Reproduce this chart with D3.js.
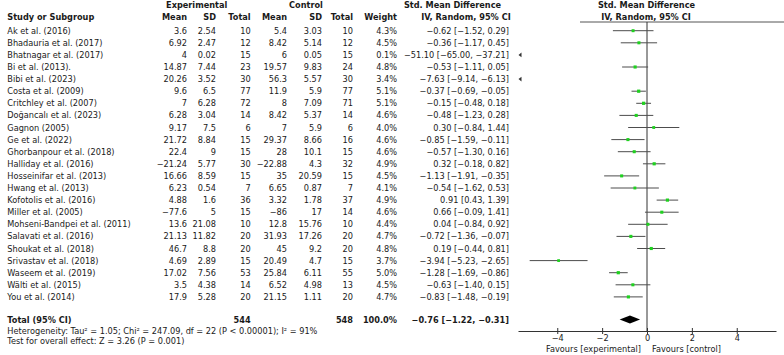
<!DOCTYPE html>
<html>
<head>
<meta charset="utf-8">
<script src="https://cdn.jsdelivr.net/npm/d3@7"></script>
<style>
  body { margin: 0; background: #fff; }
  text { font-family: "DejaVu Sans", sans-serif; font-size: 8.2px; fill: #1a1a1a; }
  .bold { font-weight: bold; }
</style>
</head>
<body>
<div id="main"></div>
<script>
const ctx = { w: 784, h: 355 };

const studies = ["Ak et al. (2016)", "Bhadauria et al. (2017)", "Bhatnagar et al. (2017)", "Bi et al. (2013).",
  "Bibi et al. (2023)", "Costa et al. (2009)", "Critchley et al. (2007)", "Doğancalı et al. (2023)",
  "Gagnon (2005)", "Ge et al. (2022)", "Ghorbanpour et al. (2018)", "Halliday et al. (2016)",
  "Hosseinifar et al. (2013)", "Hwang et al. (2013)", "Kofotolis et al. (2016)", "Miller et al. (2005)",
  "Mohseni-Bandpei et al. (2011)", "Salavati et al. (2016)", "Shoukat et al. (2018)", "Srivastav et al. (2018)",
  "Waseem et al. (2019)", "Wälti et al. (2015)", "You et al. (2014)"];
const expMean = [3.6, 6.92, 4, 14.87, 20.26, 9.6, 7, 6.28, 9.17, 21.72, 22.4, -21.24, 16.66, 6.23, 4.88, -77.6, 13.6, 21.13, 46.7, 4.69, 17.02, 3.5, 17.9];
const expSD = [2.54, 2.47, 0.02, 7.44, 3.52, 6.5, 6.28, 3.04, 7.5, 8.84, 9, 5.77, 8.59, 0.54, 1.6, 5, 21.08, 11.82, 8.8, 2.89, 7.56, 4.38, 5.28];
const expN = [10, 12, 15, 23, 30, 77, 72, 14, 6, 15, 15, 30, 15, 7, 36, 15, 10, 20, 20, 15, 53, 14, 20];
const ctlMean = [5.4, 8.42, 6, 19.57, 56.3, 11.9, 8, 8.42, 7, 29.37, 28, -22.88, 35, 6.65, 3.32, -86, 12.8, 31.93, 45, 20.49, 25.84, 6.52, 21.15];
const ctlSD = [3.03, 5.14, 0.05, 9.83, 5.57, 5.9, 7.09, 5.37, 5.9, 8.66, 10.1, 4.3, 20.59, 0.87, 1.78, 17, 15.76, 17.26, 9.2, 4.7, 6.11, 4.98, 1.11];
const ctlN = [10, 12, 15, 24, 30, 77, 71, 14, 6, 16, 15, 32, 15, 7, 37, 14, 10, 20, 20, 15, 55, 13, 20];
const weights = [4.3, 4.5, 0.1, 4.8, 3.4, 5.1, 5.1, 4.6, 4.0, 4.6, 4.6, 4.9, 4.5, 4.1, 4.9, 4.6, 4.4, 4.7, 4.8, 3.7, 5.0, 4.5, 4.7];
const smd = [-0.62, -0.36, -51.10, -0.53, -7.63, -0.37, -0.15, -0.48, 0.30, -0.85, -0.57, 0.32, -1.13, -0.54, 0.91, 0.66, 0.04, -0.72, 0.19, -3.94, -1.28, -0.63, -0.83];
const ciLow = [-1.52, -1.17, -65.00, -1.11, -9.14, -0.69, -0.48, -1.23, -0.84, -1.59, -1.30, -0.18, -1.91, -1.62, 0.43, -0.09, -0.84, -1.36, -0.44, -5.23, -1.69, -1.40, -1.48];
const ciHigh = [0.29, 0.45, -37.21, 0.05, -6.13, -0.05, 0.18, 0.28, 1.44, -0.11, 0.16, 0.82, -0.35, 0.53, 1.39, 1.41, 0.92, -0.07, 0.81, -2.65, -0.86, 0.15, -0.19];
const totalN = [544, 548];
const totalEffect = [-0.76, -1.22, -0.31];
const xTicks = [-4, -2, 0, 2, 4];

const f1 = d3.format(".1f"), f2 = d3.format(".2f");
const num = v => String(v).replace("-", "\u2212");
const effectText = (m, lo, hi) => `${f2(m)} [${f2(lo)}, ${f2(hi)}]`;

function createViz() {
  const svg = d3.select("#main").append("svg")
      .attr("width", ctx.w).attr("height", ctx.h);

  const idx = d3.range(studies.length);
  const y = d3.scalePoint().domain(idx).range([30.7, 296.9]);
  const x = d3.scaleLinear().domain([-5.75, 5.75]).range([518, 776]);
  const base = 3; // baseline offset from row centre
  const totalY = 319.5;

  // table columns: [right edge, values]
  const cols = [
    [187, expMean.map(num)], [216, expSD.map(num)], [250.7, expN.map(String)],
    [287, ctlMean.map(num)], [322, ctlSD.map(num)], [353, ctlN.map(String)],
    [397, weights.map(w => f1(w) + "%")],
    [509, idx.map(i => effectText(smd[i], ciLow[i], ciHigh[i]))]
  ];

  // headers
  const hdr = [
    ["Experimental", 196.7, 4.7, "middle"], ["Control", 306, 4.7, "middle"],
    ["Std. Mean Difference", 452.5, 4.7, "middle"], ["Std. Mean Difference", 646.5, 4.7, "middle"],
    ["Study or Subgroup", 7.3, 16.7, "start"], ["Mean", 187, 16.7, "end"], ["SD", 216, 16.7, "end"],
    ["Total", 250.7, 16.7, "end"], ["Mean", 287, 16.7, "end"], ["SD", 322, 16.7, "end"],
    ["Total", 353, 16.7, "end"], ["Weight", 397, 16.7, "end"],
    ["IV, Random, 95% CI", 466, 16.7, "middle"], ["IV, Random, 95% CI", 646, 16.7, "middle"]
  ];
  svg.append("g").selectAll("text").data(hdr).join("text")
      .attr("class", "bold")
      .attr("x", d => d[1]).attr("y", d => d[2] + base)
      .attr("text-anchor", d => d[3])
      .text(d => d[0]);

  svg.append("line")
      .attr("x1", 580).attr("x2", 784).attr("y1", 22).attr("y2", 22)
      .attr("stroke", "#555").attr("stroke-width", 1);

  // study names
  svg.append("g").selectAll("text").data(idx).join("text")
      .attr("x", 7.3).attr("y", i => y(i) + base)
      .text(i => studies[i]);

  cols.forEach(([right, vals]) => {
    svg.append("g").selectAll("text").data(idx).join("text")
        .attr("x", right).attr("y", i => y(i) + base)
        .attr("text-anchor", "end")
        .text(i => vals[i]);
  });

  // totals row
  const tot = [
    ["Total (95% CI)", 7.3, "start"], [String(totalN[0]), 250.7, "end"], [String(totalN[1]), 353, "end"],
    ["100.0%", 397, "end"], [effectText(...totalEffect), 509, "end"]
  ];
  svg.append("g").selectAll("text").data(tot).join("text")
      .attr("class", "bold")
      .attr("x", d => d[1]).attr("y", totalY + base)
      .attr("text-anchor", d => d[2])
      .text(d => d[0]);

  svg.append("text").attr("x", 7.3).attr("y", 330.7 + base)
      .text("Heterogeneity: Tau\u00b2 = 1.05; Chi\u00b2 = 247.09, df = 22 (P < 0.00001); I\u00b2 = 91%");
  svg.append("text").attr("x", 7.3).attr("y", 341.3 + base)
      .text("Test for overall effect: Z = 3.26 (P = 0.001)");

  // forest plot
  const [dMin, dMax] = x.domain();
  const axisY = 331;

  svg.append("line")
      .attr("x1", x(0)).attr("x2", x(0)).attr("y1", 22).attr("y2", axisY)
      .attr("stroke", "#333").attr("stroke-width", 1);

  const inside = idx.filter(i => ciHigh[i] >= dMin && ciLow[i] <= dMax);
  const outside = idx.filter(i => ciHigh[i] < dMin);

  svg.append("g").selectAll("line").data(inside).join("line")
      .attr("x1", i => x(Math.max(ciLow[i], dMin)))
      .attr("x2", i => x(Math.min(ciHigh[i], dMax)))
      .attr("y1", i => y(i)).attr("y2", i => y(i))
      .attr("stroke", "#4d4d4d").attr("stroke-width", 1);

  const side = w => 3.2 * Math.sqrt(w / 5);
  svg.append("g").selectAll("rect").data(inside).join("rect")
      .attr("x", i => x(smd[i]) - side(weights[i]) / 2)
      .attr("y", i => y(i) - side(weights[i]) / 2)
      .attr("width", i => side(weights[i]))
      .attr("height", i => side(weights[i]))
      .attr("fill", "#1fd11f");

  // off-scale arrows
  svg.append("g").selectAll("path").data(outside).join("path")
      .attr("d", i => `M${x(dMin) + 0.5},${y(i)} L${x(dMin) + 3.5},${y(i) - 2.3} L${x(dMin) + 3.5},${y(i) + 2.3}Z`)
      .attr("fill", "#333");

  // pooled diamond
  svg.append("path")
      .attr("d", `M${x(totalEffect[1])},${totalY} L${x(totalEffect[0])},${totalY - 4} L${x(totalEffect[2])},${totalY} L${x(totalEffect[0])},${totalY + 4}Z`)
      .attr("fill", "#000");

  // axis
  const ax = svg.append("g")
      .attr("transform", `translate(0,${axisY})`)
      .call(d3.axisBottom(x).tickValues(xTicks).tickSizeInner(3).tickSizeOuter(0).tickPadding(1).tickFormat(d3.format("d")));
  ax.select(".domain").attr("stroke", "#333");
  ax.selectAll(".tick line").attr("stroke", "#333").attr("y1", -3);
  ax.selectAll(".tick text").style("font-size", "8.2px").attr("fill", "#1a1a1a");

  svg.append("text").attr("x", x(0) - 6).attr("y", 349 + base)
      .attr("text-anchor", "end").text("Favours [experimental]");
  svg.append("text").attr("x", x(0) + 5).attr("y", 349 + base)
      .text("Favours [control]");
}

createViz();
</script>
</body>
</html>
